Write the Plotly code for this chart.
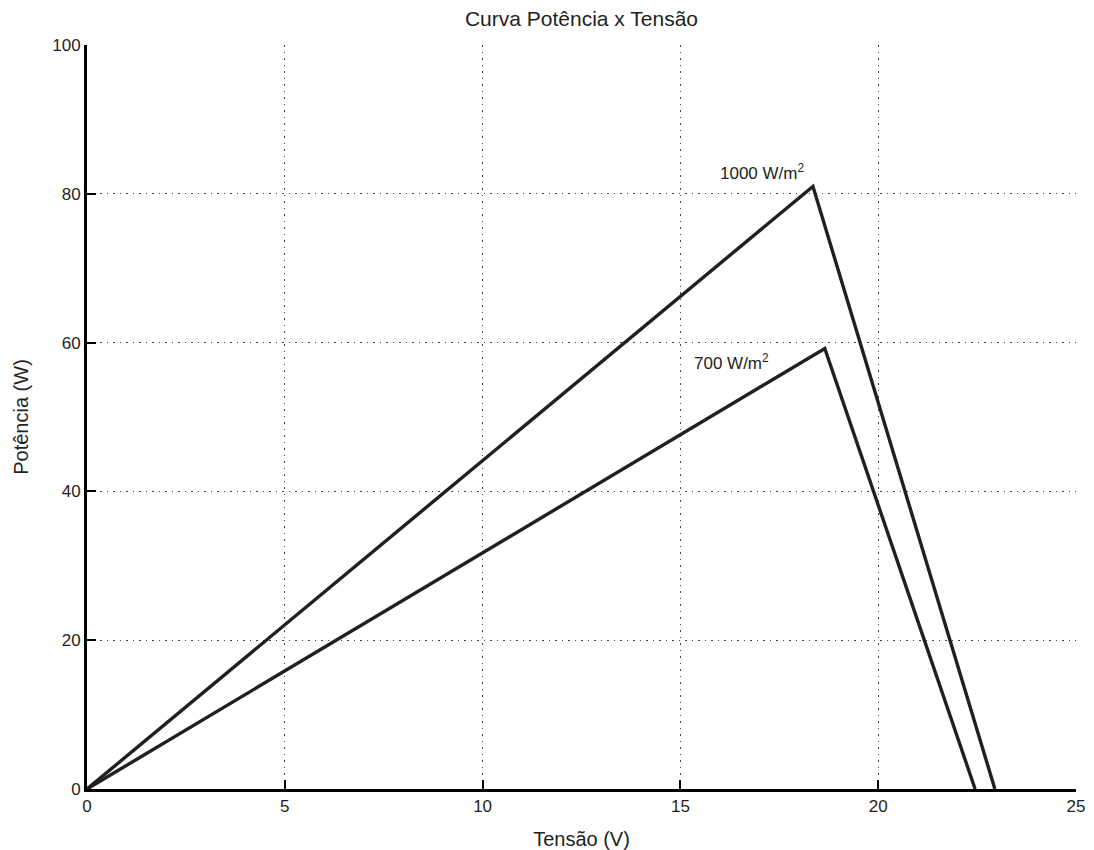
import plotly.graph_objects as go

# Data
v_1000 = [0, 18.35, 22.95]
p_1000 = [0, 81.0, 0]
v_700 = [0, 18.65, 22.45]
p_700 = [0, 59.2, 0]
labels = ["1000 W/m<sup>2</sup>", "700 W/m<sup>2</sup>"]
label_x = [17.05, 16.3]
label_y = [82.9, 57.4]
x_ticks = [0, 5, 10, 15, 20, 25]
y_ticks = [0, 20, 40, 60, 80, 100]

FONT = "Liberation Sans, Arial, sans-serif"
line_color = "#231f20"
fig = go.Figure()
fig.add_trace(go.Scatter(x=v_1000, y=p_1000, mode="lines",
                         line=dict(color=line_color, width=3.4), showlegend=False))
fig.add_trace(go.Scatter(x=v_700, y=p_700, mode="lines",
                         line=dict(color=line_color, width=3.4), showlegend=False))
for t, lx, ly in zip(labels, label_x, label_y):
    fig.add_annotation(x=lx, y=ly, text=t, showarrow=False,
                       font=dict(size=17, color="#231f20", family=FONT))

W, H = 1094, 850
fig.update_layout(
    width=W, height=H,
    paper_bgcolor="white", plot_bgcolor="white",
    margin=dict(l=79, r=26, t=37, b=69),
    font=dict(family=FONT, size=17, color="#231f20"),
    title=dict(text="Curva Potência x Tensão", x=0.5, xref="paper", xanchor="center",
               y=1 - 11 / H, yanchor="middle", font=dict(size=21, family=FONT)),
)
grid = dict(showgrid=True, gridcolor="#444444", griddash="1.5px,5px", gridwidth=1,
            showline=True, linecolor="black", linewidth=3, zeroline=False,
            ticks="inside", ticklen=9, tickwidth=2, tickcolor="black",
            tickfont=dict(size=17, family=FONT))
fig.update_xaxes(range=[0, 25], tickvals=x_ticks,
                 title=dict(text="Tensão (V)", standoff=17, font=dict(size=20)), **grid)
fig.update_yaxes(range=[0, 100], tickvals=y_ticks,
                 title=dict(text="Potência (W)", standoff=19, font=dict(size=20)), **grid)

fig.write_html("out.html")
